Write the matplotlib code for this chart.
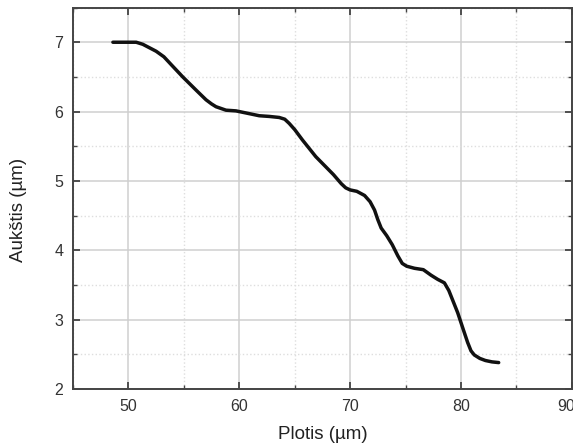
import matplotlib
matplotlib.use("Agg")
import matplotlib.pyplot as plt
from matplotlib.ticker import MultipleLocator
from matplotlib.transforms import ScaledTranslation

plt.rcParams['font.family'] = ['Liberation Sans', 'DejaVu Sans']

width_um = [48.6, 50.7, 51.3, 51.9, 52.5, 53.2, 53.9, 54.9, 56.1, 57.0, 57.5, 57.9,
            58.8, 59.7, 60.9, 61.8, 62.7, 63.6, 64.1, 64.5, 65.0, 65.7, 66.9,
            68.5, 69.2, 69.6, 70.0, 70.6, 71.3, 71.8, 72.2, 72.5, 72.8, 73.3,
            73.8, 74.3, 74.7, 75.1, 75.8, 76.6, 77.3, 77.9, 78.5, 78.9, 79.3,
            79.7, 80.2, 80.6, 80.9, 81.2, 81.7, 82.2, 82.8, 83.4]
height_um = [7.0, 7.0, 6.97, 6.92, 6.87, 6.79, 6.67, 6.50, 6.31, 6.17, 6.11, 6.07,
             6.02, 6.01, 5.97, 5.94, 5.93, 5.915, 5.89, 5.83, 5.74, 5.59, 5.35,
             5.09, 4.96, 4.90, 4.87, 4.85, 4.79, 4.70, 4.58, 4.44, 4.32, 4.21,
             4.08, 3.92, 3.81, 3.77, 3.74, 3.72, 3.64, 3.58, 3.53, 3.42, 3.26,
             3.10, 2.86, 2.67, 2.55, 2.49, 2.44, 2.41, 2.39, 2.38]

fig = plt.figure(figsize=(5.73, 4.45), dpi=100)
ax = fig.add_axes([0.1274, 0.126, 0.8706, 0.857])

ax.plot(width_um, height_um, color='#111111', lw=2.5, solid_joinstyle='round',
        solid_capstyle='round', zorder=3)

ax.set_xlim(45, 90)
ax.set_ylim(2, 7.5)
ax.xaxis.set_major_locator(MultipleLocator(10))
ax.xaxis.set_minor_locator(MultipleLocator(5))
ax.yaxis.set_major_locator(MultipleLocator(1))
ax.yaxis.set_minor_locator(MultipleLocator(0.5))

ax.grid(which='major', color='#cfcfcf', lw=1.1, ls='-')
ax.grid(which='minor', color='#dedede', lw=1.0, ls=':')
ax.set_axisbelow(True)

ax.tick_params(which='both', direction='in', top=True, right=True,
               color='#444444', labelcolor='#333333')
ax.tick_params(which='major', length=5, width=1.3, labelsize=11.5, pad=7)
ax.tick_params(which='minor', length=3, width=1.0)
ax.set_xticks([50, 60, 70, 80, 90])
ax.set_yticks([2, 3, 4, 5, 6, 7])

for s in ax.spines.values():
    s.set_color('#444444')
    s.set_linewidth(1.4)

ax.set_xlabel('Plotis (µm)', fontsize=13.5, color='#222222')
ax.set_ylabel('Aukštis (µm)', fontsize=13.5, color='#222222')
ax.xaxis.set_label_coords(0.5, -0.097)
ax.yaxis.set_label_coords(-0.092, 0.469)

# the last x tick label sits slightly inside the figure edge, as in the reference
fig.canvas.draw()
last = ax.get_xticklabels()[-1]
last.set_transform(last.get_transform() + ScaledTranslation(-6 / 100, 0, fig.dpi_scale_trans))

fig.savefig('out.png', dpi=100)
